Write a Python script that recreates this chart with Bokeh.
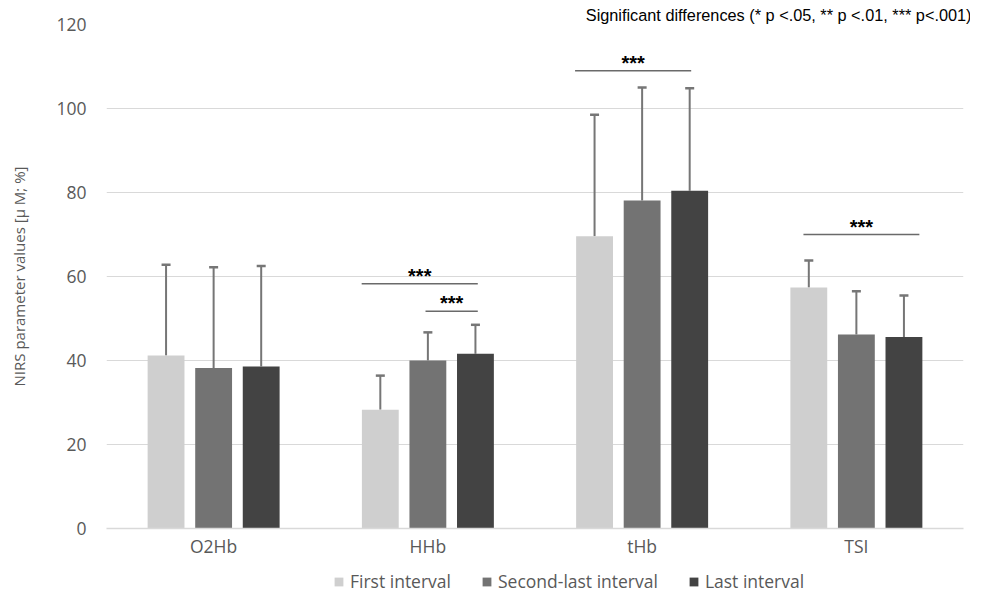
from bokeh.plotting import figure
from bokeh.models import ColumnDataSource, Whisker, TeeHead, Legend, LegendItem, Title, FactorRange
from bokeh.layouts import column
from bokeh.transform import dodge
from bokeh.embed import file_html
from bokeh.resources import INLINE
from bokeh.core.properties import value

# ---- data ----
categories = ["O2Hb", "HHb", "tHb", "TSI"]
series_names = ["First interval", "Second-last interval", "Last interval"]
first_mean = [41.2, 28.3, 69.6, 57.4]
first_sd = [21.6, 8.1, 28.9, 6.4]
second_mean = [38.2, 40.0, 78.1, 46.2]
second_sd = [24.0, 6.7, 26.9, 10.3]
last_mean = [38.6, 41.6, 80.4, 45.6]
last_sd = [23.9, 6.9, 24.4, 9.9]
colors = ["#cfcfcf", "#737373", "#434343"]
y_ticks = [0, 20, 40, 60, 80, 100, 120]

# significance brackets: category, start/end offset (category units), height, label
sig_cat = ["HHb", "HHb", "tHb", "TSI"]
sig_x0 = [-0.309, -0.011, -0.313, -0.247]
sig_x1 = [0.233, 0.233, 0.229, 0.294]
sig_y = [58.3, 51.7, 109.0, 70.0]
sig_label = ["***", "***", "***", "***"]

offsets = [-0.222, 0.0, 0.222]
bar_w = 0.172

FONT = "Open Sans"
GRAY_TXT = "#595959"

p = figure(x_range=FactorRange(*categories, range_padding=0), y_range=(0, 120),
           width=970, height=560, output_backend="svg", toolbar_location=None,
           min_border_left=106, min_border_right=7, min_border_top=24, min_border_bottom=31)
p.outline_line_color = None
p.background_fill_color = "white"

means = [first_mean, second_mean, last_mean]
sds = [first_sd, second_sd, last_sd]
for i in range(3):
    src = ColumnDataSource(dict(cat=categories, mean=means[i],
                                upper=[m + s for m, s in zip(means[i], sds[i])]))
    p.vbar(x=dodge("cat", offsets[i], range=p.x_range), top="mean", width=bar_w,
           source=src, fill_color=colors[i], line_color=None)
    w = Whisker(base=dodge("cat", offsets[i], range=p.x_range), upper="upper", lower="mean",
                source=src, line_color="#767676", line_width=2,
                upper_head=TeeHead(size=9, line_color="#767676", line_width=2.5),
                lower_head=None)
    p.add_layout(w)

# significance brackets
cat_idx = {c: k for k, c in enumerate(categories)}
sx0 = [cat_idx[c] + 0.5 + o for c, o in zip(sig_cat, sig_x0)]
sx1 = [cat_idx[c] + 0.5 + o for c, o in zip(sig_cat, sig_x1)]
smid = [(a + b) / 2 for a, b in zip(sx0, sx1)]
p.segment(x0=sx0, y0=sig_y, x1=sx1, y1=sig_y, line_color="#6a6a6a", line_width=1.5)
p.text(x=smid, y=sig_y, text=sig_label, text_align="center", text_baseline="middle",
       y_offset=-8, text_font=value("Liberation Sans"), text_font_size="20px",
       text_font_style="bold", text_color="black")

# axes styling
p.yaxis.ticker = y_ticks
p.yaxis.axis_line_color = None
p.yaxis.major_tick_line_color = None
p.yaxis.minor_tick_line_color = None
p.yaxis.major_tick_out = 0
p.yaxis.major_tick_in = 0
p.yaxis.major_label_standoff = 20
p.yaxis.major_label_text_font = FONT
p.yaxis.major_label_text_font_size = "17.5px"
p.yaxis.major_label_text_color = GRAY_TXT
p.yaxis.axis_label = "NIRS parameter values [µ M; %]"
p.yaxis.axis_label_text_font = FONT
p.yaxis.axis_label_text_font_size = "15px"
p.yaxis.axis_label_text_font_style = "normal"
p.yaxis.axis_label_text_color = GRAY_TXT
p.yaxis.axis_label_standoff = 24

p.xaxis.axis_line_color = "#d9d9d9"
p.xaxis.axis_line_width = 1.5
p.xaxis.major_tick_line_color = None
p.xaxis.minor_tick_line_color = None
p.xaxis.major_tick_out = 0
p.xaxis.major_tick_in = 0
p.xaxis.major_label_standoff = 5
p.xaxis.major_label_text_font = FONT
p.xaxis.major_label_text_font_size = "17.5px"
p.xaxis.major_label_text_color = GRAY_TXT

p.xgrid.grid_line_color = None
p.ygrid.grid_line_color = "#d9d9d9"
p.ygrid.grid_line_width = 1.2

title = Title(text="Significant differences (* p <.05, ** p <.01, *** p<.001)",
              align="right", offset=-8, text_font="Liberation Sans", text_font_size="16.3px",
              text_font_style="normal", text_color="black", standoff=2)
p.add_layout(title, "above")

# ---- legend strip below the chart ----
pl = figure(width=970, height=37, output_backend="svg", toolbar_location=None,
            x_axis_type=None, y_axis_type=None, x_range=(0, 1), y_range=(0, 1),
            min_border_left=106, min_border_right=7, min_border_top=4, min_border_bottom=0)
pl.outline_line_color = None
pl.xgrid.visible = False
pl.ygrid.visible = False
items = []
for i in range(3):
    # zero-height proxy bars: only their swatch is shown in the legend
    r = pl.vbar(x=[0.5], top=[0], bottom=[0], width=0.01, fill_color=colors[i], line_color=None)
    items.append(LegendItem(label=series_names[i], renderers=[r]))
legend = Legend(items=items, orientation="horizontal", location=(227, 4),
                glyph_width=11, glyph_height=11, label_standoff=6, spacing=30,
                padding=0, margin=0, border_line_color=None, background_fill_alpha=0,
                label_text_font=FONT, label_text_font_size="17.5px", label_text_color=GRAY_TXT)
pl.add_layout(legend)

layout = column(p, pl, spacing=0)
open("out.html", "w").write(file_html(layout, INLINE))
